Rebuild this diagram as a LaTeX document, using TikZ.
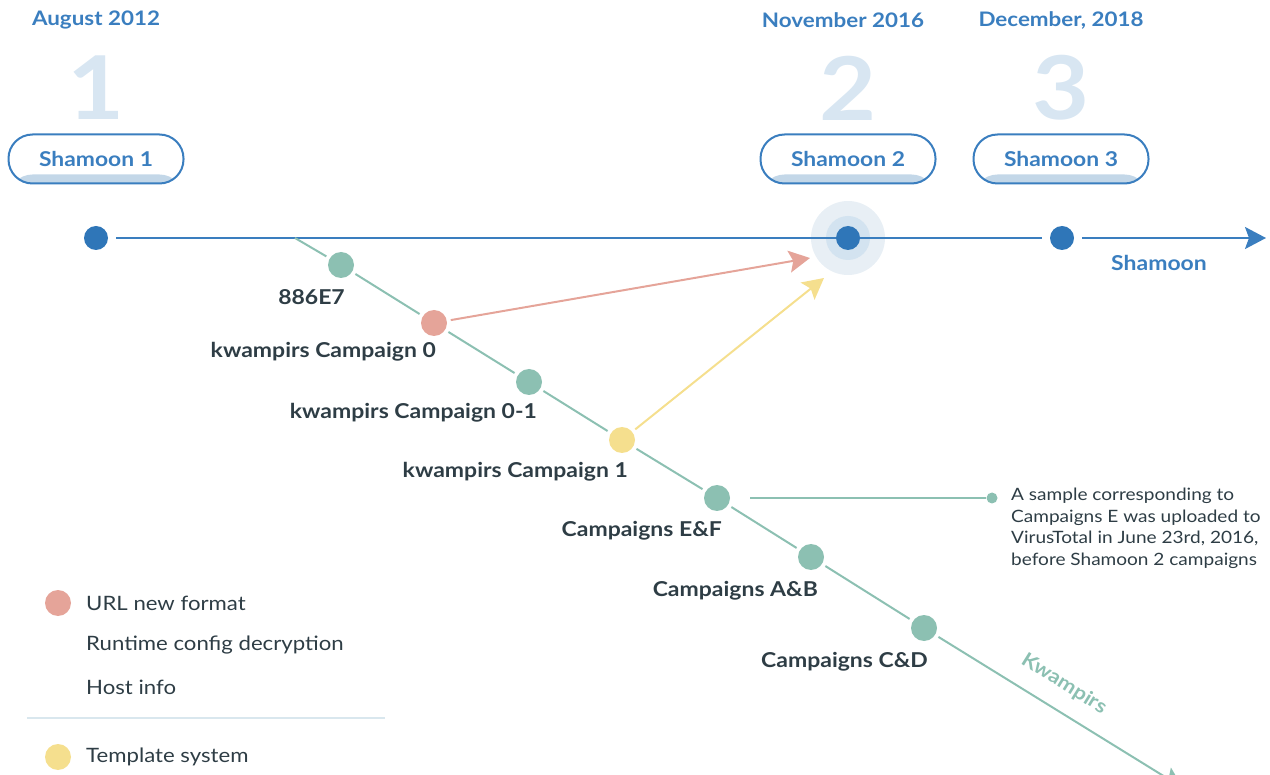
\documentclass[tikz,border=0pt]{standalone}
\usepackage{fontspec}
\setmainfont{Lato}[FakeStretch=1.12]
\usetikzlibrary{arrows.meta,calc}
\definecolor{blueT}{HTML}{3A7EBF}
\definecolor{blueDot}{HTML}{2F76B8}
\definecolor{numC}{HTML}{D8E6F2}
\definecolor{pillFill}{HTML}{C3D7E8}
\definecolor{greenC}{HTML}{8CC0B2}
\definecolor{redC}{HTML}{E5A499}
\definecolor{yellowC}{HTML}{F5DF8E}
\definecolor{darkC}{HTML}{2E3D45}
\definecolor{haloA}{HTML}{E8EFF5}
\definecolor{haloB}{HTML}{D3E3F0}
\definecolor{sepC}{HTML}{D9E7EE}
\begin{document}
\begin{tikzpicture}[x=1pt,y=-1pt,
  datetxt/.style={text=blueT, font=\fontsize{20}{24}\selectfont\bfseries},
  bignum/.style={text=numC, font=\fontsize{88}{90}\selectfont\bfseries},
  pill/.style={draw=blueT, line width=2pt, rounded corners=24pt, minimum width=175pt, minimum height=49pt,
    text=blueT, font=\fontsize{20.4}{24}\selectfont\bfseries,
    path picture={\fill[pillFill] ([yshift=-2pt]path picture bounding box.south west) rectangle ([yshift=9pt]path picture bounding box.south east);}},
  bdot/.style={circle, fill=blueDot, minimum size=24pt, inner sep=0pt, outer sep=8pt},
  gdot/.style={circle, fill=greenC, minimum size=26pt, inner sep=0pt, outer sep=4pt},
  rdot/.style={gdot, fill=redC},
  ydot/.style={gdot, fill=yellowC},
  lbl/.style={anchor=east, inner sep=0pt, text=darkC, font=\fontsize{20.5}{24}\selectfont\bfseries},
  legtxt/.style={anchor=west, inner sep=0pt, text=darkC, font=\fontsize{19.8}{23}\selectfont},
  bline/.style={draw=blueT, line width=2pt},
  gline/.style={draw=greenC, line width=2pt},
  tipA/.style={-{Stealth[length=21pt, width=22pt, inset=4pt]}}
]
\useasboundingbox (0,0) rectangle (1270,775);

% dates and numbers
\node[datetxt] (date1) at (96,20) {August 2012};
\node[datetxt] (date2) at (843,20) {November 2016};
\node[datetxt] (date3) at (1061,20) {December, 2018};
\node[bignum] (num1) at (96,88) {1};
\node[bignum] (num2) at (848,88) {2};
\node[bignum] (num3) at (1061,88) {3};

% pills
\node[pill] (p1) at (96,159) {Shamoon 1};
\node[pill] (p2) at (848,159) {Shamoon 2};
\node[pill] (p3) at (1061,159) {Shamoon 3};

% halo
\node[circle, fill=haloA, minimum size=74pt, inner sep=0pt] (haloA) at (848,238) {};
\node[circle, fill=haloB, minimum size=44pt, inner sep=0pt] (haloB) at (848,238) {};

% blue timeline
\node[bdot] (d1) at (96,238) {};
\node[bdot, outer sep=0pt] (d2) at (848,238) {};
\node[bdot] (d3) at (1062,238) {};
\coordinate (btip) at (1266,238);
\draw[bline] (d1) -- (d2) -- (d3);
\draw[bline, tipA] (d3) -- (btip);
\node[text=blueT, font=\fontsize{20.5}{24}\selectfont\bfseries] (shamoon) at (1159,263) {Shamoon};

% green dots
\coordinate (g0) at (295,238);
\node[gdot] (g1) at (341,265) {};
\node[rdot] (c0) at (434,323) {};
\node[gdot] (c01) at (529,382) {};
\node[ydot] (c1) at (622,440) {};
\node[gdot] (ef) at (717,498) {};
\node[gdot] (ab) at (811,557) {};
\node[gdot] (cd) at (924,628) {};
\coordinate (gtip) at (1183,788);
\draw[gline] (g0) -- (g1) -- (c0) -- (c01) -- (c1) -- (ef) -- (ab) -- (cd);
\draw[gline, tipA] (cd) -- (gtip);
\node[text=greenC, font=\fontsize{19.5}{23}\selectfont\bfseries, rotate=-32] (kw) at (1064,684) {Kwampirs};

% red and yellow arrows
\coordinate (rtip) at (810,258);
\coordinate (ytip) at (824,278);
\draw[draw=redC, line width=2pt, tipA] (c0) -- (rtip);
\draw[draw=yellowC, line width=2pt, tipA] (c1) -- (ytip);

% labels
\node[lbl] (l1) at ($(g1)+(4,32)$) {886E7};
\node[lbl] (l2) at ($(c0)+(2,29)$) {kwampirs Campaign 0};
\node[lbl] (l3) at ($(c01)+(8,31)$) {kwampirs Campaign 0-1};
\node[lbl] (l4) at ($(c1)+(6,32)$) {kwampirs Campaign 1};
\node[lbl] (l5) at ($(ef)+(5,33)$) {Campaigns E\&F};
\node[lbl] (l6) at ($(ab)+(7,34)$) {Campaigns A\&B};
\node[lbl] (l7) at ($(cd)+(4,34)$) {Campaigns C\&D};

% annotation
\coordinate (an) at (750,498);
\node[circle, fill=greenC, minimum size=11pt, inner sep=0pt] (adot) at (992,498) {};
\draw[draw=greenC, line width=1.3pt] (an) -- (adot);
\node[anchor=north west, align=left, text=darkC, font=\fontsize{17}{21.5}\selectfont, inner sep=0pt] (anote) at (1011,488)
  {A sample corresponding to\\Campaigns E was uploaded to\\VirusTotal in June 23rd, 2016,\\before Shamoon 2 campaigns};

% legend
\node[circle, fill=redC, minimum size=26pt, inner sep=0pt] (lr) at (58,603) {};
\node[legtxt] (t1) at (86,603) {URL new format};
\node[legtxt] (t2) at (86,645) {Runtime config decryption};
\node[legtxt] (t3) at (86,687) {Host info};
\coordinate (s1) at (27,718);
\coordinate (s2) at (385,718);
\draw[draw=sepC, line width=1.5pt] (s1) -- (s2);
\node[circle, fill=yellowC, minimum size=26pt, inner sep=0pt] (ly) at (58,757) {};
\node[legtxt] (t4) at (86,757) {Template system};
\end{tikzpicture}
\end{document}
